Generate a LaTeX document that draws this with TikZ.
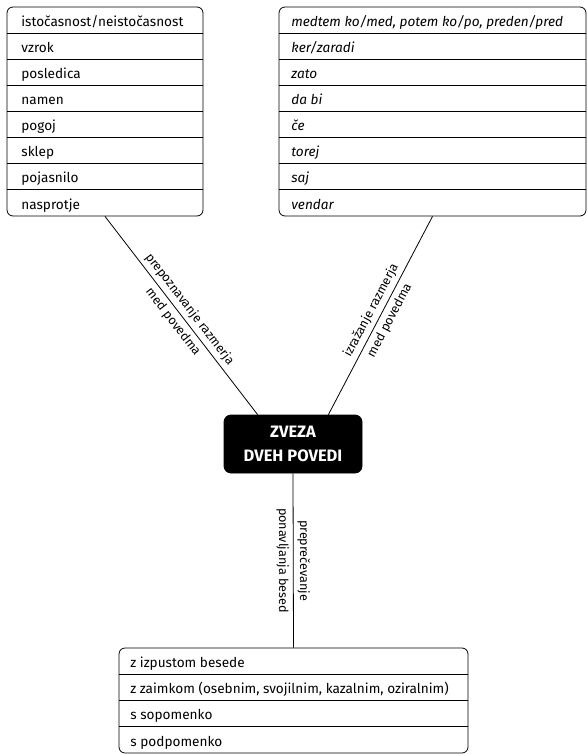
\documentclass[tikz,border=0pt]{standalone}
\usepackage{fontspec}
\setmainfont{Fira Sans}
\begin{document}
\begin{tikzpicture}[x=1pt, y=-1pt, line width=0.8pt,
  seznam/.style={draw, rounded corners=6pt, inner sep=0pt},
  vrstica/.style={anchor=base west, inner sep=0pt, font=\fontsize{13.6}{16}\selectfont},
  vezje/.style={draw, fill=black, text=white, rounded corners=7pt, align=center,
    minimum width=138pt, minimum height=58pt, font=\fontsize{16.5}{24}\selectfont\bfseries},
  oznaka/.style={align=center, inner sep=0pt, font=\fontsize{12.6}{21}\selectfont}]
\useasboundingbox (0,0) rectangle (588,754);
% seznami
\node[seznam, minimum width=196pt, minimum height=209pt] (razmerja) at (105,111.5) {};
\node[seznam, minimum width=307pt, minimum height=209pt] (vezniki) at (432.5,111.5) {};
\node[seznam, minimum width=349pt, minimum height=105pt] (nacini) at (293.5,700.5) {};
\foreach \i in {1,...,7} {
  \draw (7,7+26.125*\i) -- (203,7+26.125*\i);
  \draw (279,7+26.125*\i) -- (586,7+26.125*\i);
}
\foreach \i in {1,2,3} \draw (119,648+26.25*\i) -- (468,648+26.25*\i);
\foreach \t [count=\i] in {istočasnost/neistočasnost, vzrok, posledica, namen, pogoj, sklep, pojasnilo, nasprotje}
  \node[vrstica] (r\i) at (21,7+26.125*\i-7) {\t};
\foreach \t [count=\i] in {{medtem ko/med, potem ko/po, preden/pred}, ker/zaradi, zato, da bi, če, torej, saj, vendar}
  \node[vrstica, font=\fontsize{13.6}{16}\selectfont\itshape] (v\i) at (291,7+26.125*\i-7) {\t};
\foreach \t [count=\i] in {z izpustom besede, {z zaimkom (osebnim, svojilnim, kazalnim, oziralnim)}, s sopomenko, s podpomenko}
  \node[vrstica] (n\i) at (130,648+26.25*\i-7) {\t};
% sredina
\node[vezje] (zveza) at (293,444) {ZVEZA\\DVEH POVEDI};
\draw (razmerja.south) -- node[oznaka, midway, sloped] {prepoznavanje razmerja\\med povedma} ([xshift=34pt]zveza.north west);
\draw (vezniki.south) -- node[oznaka, midway, sloped] {izražanje razmerja\\med povedma} ([xshift=-34pt]zveza.north east);
\draw (zveza.south) -- node[oznaka, midway, rotate=-90] {preprečevanje\\ponavljanja besed} (nacini.north);
\end{tikzpicture}
\end{document}
